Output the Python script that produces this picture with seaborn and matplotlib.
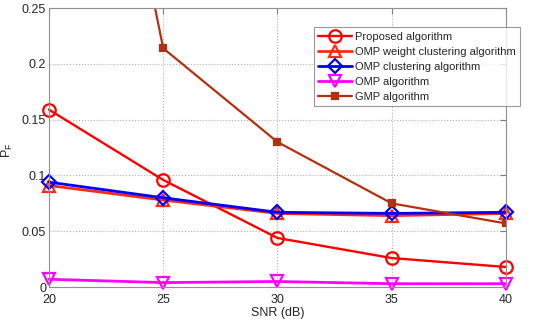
import pandas as pd
import matplotlib
matplotlib.use("Agg")
import matplotlib.pyplot as plt
import seaborn as sns

# --- Data ---
snr = [20, 25, 30, 35, 40]
proposed = [0.159, 0.096, 0.044, 0.026, 0.018]
omp_weight = [0.091, 0.078, 0.066, 0.064, 0.066]
omp_cluster = [0.094, 0.080, 0.067, 0.066, 0.067]
omp = [0.007, 0.004, 0.005, 0.003, 0.003]
gmp = [0.72, 0.214, 0.130, 0.075, 0.057]

x_ticks = [20, 25, 30, 35, 40]
y_ticks = [0, 0.05, 0.1, 0.15, 0.2, 0.25]
y_tick_labels = ['0', '0.05', '0.1', '0.15', '0.2', '0.25']

# name, values, colour, marker, marker size, line width, filled marker, clip
series = [
    ('Proposed algorithm', proposed, '#ff0000', 'o', 9, 1.7, False, False),
    ('OMP weight clustering algorithm', omp_weight, '#ff2a10', '^', 9, 2.0, False, False),
    ('OMP clustering algorithm', omp_cluster, '#0000ff', 'D', 7, 2.0, False, False),
    ('OMP algorithm', omp, '#ff00ff', 'v', 9, 2.0, False, False),
    ('GMP algorithm', gmp, '#b5300e', 's', 4.5, 1.6, True, True),
]

sns.set_style('white')
plt.rcParams['font.family'] = ['Liberation Sans', 'DejaVu Sans']
plt.rcParams['mathtext.fontset'] = 'custom'
plt.rcParams['mathtext.rm'] = 'Liberation Sans'

fig = plt.figure(figsize=(5.5, 3.24), dpi=100)
ax = fig.add_axes([0.089, 0.114, 0.831, 0.861])

for name, vals, color, marker, ms, lw, filled, clip in series:
    df = pd.DataFrame({'snr': snr, 'pf': vals})
    sns.lineplot(data=df, x='snr', y='pf', ax=ax, color=color, linewidth=lw,
                 marker=marker, markersize=ms, markeredgewidth=1.6,
                 markerfacecolor=color if filled else 'none',
                 markeredgecolor=color, label=name)
    ax.lines[-1].set_clip_on(clip)

ax.set_xlim(20, 40)
ax.set_ylim(0, 0.25)
ax.set_xticks(x_ticks)
ax.set_yticks(y_ticks)
ax.set_yticklabels(y_tick_labels)
ax.grid(True, linestyle=':', color='#b0b0b0', linewidth=0.8)
ax.set_axisbelow(True)
ax.tick_params(direction='in', length=4, labelsize=9, color='#808080',
               top=True, right=True)
ax.tick_params(axis='x', pad=5)
ax.tick_params(axis='y', pad=2)
for sp in ax.spines.values():
    sp.set_color('#909090')
    sp.set_linewidth(0.8)

ax.set_xlabel('SNR (dB)', fontsize=9, labelpad=1)
ax.set_ylabel(r'P$_\mathrm{F}$', fontsize=9)
ax.yaxis.set_label_coords(-0.075, 0.49)

leg = ax.legend(loc='upper right', bbox_to_anchor=(1.031, 0.932), fontsize=8,
                frameon=True, fancybox=False, handlelength=3.0,
                handletextpad=0.3, borderpad=0.4, labelspacing=0.45,
                borderaxespad=0)
leg.get_frame().set_edgecolor('#808080')
leg.get_frame().set_linewidth(0.8)
leg.set_zorder(5)

fig.savefig('out.png', dpi=100)
